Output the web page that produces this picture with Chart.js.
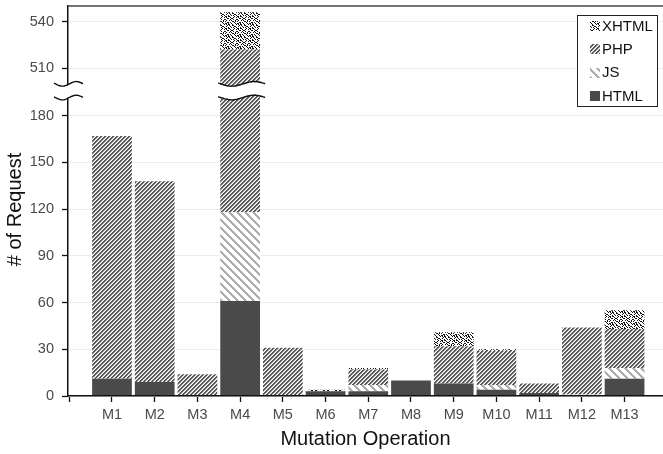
<!DOCTYPE html>
<html><head><meta charset="utf-8">
<script src="https://cdn.jsdelivr.net/npm/chart.js@4.4.1/dist/chart.umd.min.js"></script>
<style>html,body{margin:0;padding:0;background:#fff;overflow:hidden}#wrap{width:663px;height:454px;position:relative}</style>
</head><body><div id="wrap"><canvas id="c" width="663" height="454"></canvas></div>
<script>
// ---- data ----
const categories = ['M1','M2','M3','M4','M5','M6','M7','M8','M9','M10','M11','M12','M13'];
const htmlVals  = [11, 9, 0, 61, 0, 3, 3, 10, 8, 4, 2, 0, 11];
const jsVals    = [0, 0, 0, 57, 0, 0, 4, 0, 0, 3, 0, 1, 7];
const phpVals   = [156, 129, 14, 404, 31, 0, 10, 0, 24, 22, 6, 43, 25];
const xhtmlVals = [0, 0, 0, 24, 0, 1, 1, 0, 9, 1, 0, 0, 12];
const seriesNames = ['HTML', 'JS', 'PHP', 'XHTML'];
const yTicksLower = [0, 30, 60, 90, 120, 150, 180];
const yTicksUpper = [510, 540];

// ---- broken axis mapping ----
const BREAK_LOW = 195;      // values above this are shifted down
const SHIFT = 299.5;        // amount of the axis removed by the break
const WAVE_LOW = 191.7, WAVE_HIGH = 200.5; // display units of the break marks
const f = v => (v > BREAK_LOW ? v - SHIFT : v);
const unf = v => (v > BREAK_LOW ? Math.round(v + SHIFT) : Math.round(v));

const raw = [htmlVals, jsVals, phpVals, xhtmlVals];
const disp = raw.map(() => []);
categories.forEach((c, i) => {
  let cum = 0;
  raw.forEach((arr, k) => {
    const next = cum + arr[i];
    disp[k][i] = f(next) - f(cum);
    cum = next;
  });
});

// ---- patterns ----
function tile(w, h, painter) {
  const cv = document.createElement('canvas');
  cv.width = w; cv.height = h;
  const cx = cv.getContext('2d');
  cx.fillStyle = '#fff'; cx.fillRect(0, 0, w, h);
  painter(cx, w, h);
  return cv;
}
const phpTile = tile(4, 4, (cx) => {
  for (let x = 0; x < 4; x++) for (let y = 0; y < 4; y++) {
    const m = (x + y) % 4;
    if (m < 2) { cx.fillStyle = '#595959'; cx.fillRect(x, y, 1, 1); }
    else if (m === 2) { cx.fillStyle = '#c4c4c4'; cx.fillRect(x, y, 1, 1); }
  }
});
const jsTile = tile(8, 8, (cx) => {
  cx.fillStyle = '#adadad';
  for (let x = 0; x < 8; x++) for (let y = 0; y < 8; y++) if (((x - y) % 8 + 8) % 8 < 3) cx.fillRect(x, y, 1, 1);
});
const dots = ['110010001010','010011000001','001000110010','100101001000','110000100110','001001001010',
              '100110000001','001001001100','010100010010','000011010100','101000100001','100100010110'];
const xhtmlTile = tile(12, 12, (cx) => {
  cx.fillStyle = '#111';
  dots.forEach((row, y) => { for (let x = 0; x < 12; x++) if (row[x] === '1') cx.fillRect(x, y, 1, 1); });
});
const mainCtx = document.getElementById('c').getContext('2d');
const fills = ['#4a4a4a', mainCtx.createPattern(jsTile, 'repeat'), mainCtx.createPattern(phpTile, 'repeat'), mainCtx.createPattern(xhtmlTile, 'repeat')];

const FONT = "'Liberation Sans', Arial, Helvetica, sans-serif";

const datasets = seriesNames.map((name, k) => ({
  label: name,
  data: categories.map((c, i) => ({ x: i + 1, y: disp[k][i] })),
  backgroundColor: fills[k],
  borderWidth: 0,
  barPercentage: 0.93,
  categoryPercentage: 1.0
}));

function wavePath(x0, x1, yc) {
  const pts = [];
  for (let x = x0; x <= x1 + 0.01; x += 1) {
    const t = (x - x0) / (x1 - x0);
    pts.push([x, yc + 2.3 * Math.sin(2 * Math.PI * (1.05 * t) - 0.35)]);
  }
  return pts;
}

const decor = {
  id: 'decor',
  afterDraw(chart) {
    const ctx = chart.ctx, a = chart.chartArea;
    const ys = chart.scales.y, xs = chart.scales.x;
    ctx.save();
    // top border
    ctx.strokeStyle = '#444'; ctx.lineWidth = 1.5;
    ctx.beginPath(); ctx.moveTo(a.left, a.top); ctx.lineTo(a.right, a.top); ctx.stroke();
    // break marks
    const yHi = ys.getPixelForValue(WAVE_HIGH), yLo = ys.getPixelForValue(WAVE_LOW);
    const cx4 = xs.getPixelForValue(categories.indexOf('M4') + 1);
    const ranges = [[a.left - 14, a.left + 15], [cx4 - 22, cx4 + 25]];
    ranges.forEach(([x0, x1]) => {
      const top = wavePath(x0, x1, yHi), bot = wavePath(x0, x1, yLo);
      ctx.fillStyle = '#fff';
      ctx.beginPath();
      top.forEach((p, i) => i ? ctx.lineTo(p[0], p[1] + 0.8) : ctx.moveTo(p[0], p[1] + 0.8));
      bot.slice().reverse().forEach(p => ctx.lineTo(p[0], p[1] - 0.8));
      ctx.closePath(); ctx.fill();
      ctx.strokeStyle = '#111'; ctx.lineWidth = 1.4;
      [top, bot].forEach(pts => {
        ctx.beginPath();
        pts.forEach((p, i) => i ? ctx.lineTo(p[0], p[1]) : ctx.moveTo(p[0], p[1]));
        ctx.stroke();
      });
    });
    // legend
    const lw = 80, lh = 91;
    const lx = a.right - 6 - lw, ly = a.top + 9;
    ctx.fillStyle = '#fff'; ctx.fillRect(lx, ly, lw, lh);
    ctx.strokeStyle = '#222'; ctx.lineWidth = 1;
    ctx.strokeRect(lx + 0.5, ly + 0.5, lw, lh);
    ctx.font = '15px ' + FONT; ctx.textBaseline = 'middle'; ctx.textAlign = 'left';
    const order = chart.data.datasets.slice().reverse();
    order.forEach((ds, i) => {
      const cy = ly + 11 + i * 23.3;
      ctx.fillStyle = ds.backgroundColor;
      ctx.fillRect(lx + 13, Math.round(cy - 5), 10, 10);
      ctx.fillStyle = '#111';
      ctx.fillText(ds.label, lx + 25, cy + 0.5);
    });
    // y title
    ctx.translate(15.5, (a.top + a.bottom) / 2 + 8.5);
    ctx.rotate(-Math.PI / 2);
    ctx.font = '20px ' + FONT; ctx.textAlign = 'center'; ctx.textBaseline = 'middle';
    ctx.fillStyle = '#111';
    ctx.fillText('# of Request', 0, 0);
    ctx.restore();
  }
};

new Chart(mainCtx, {
  type: 'bar',
  data: { datasets },
  options: {
    responsive: false,
    animation: false,
    layout: { padding: { top: 6, right: 0, bottom: 0, left: 0 } },
    plugins: { legend: { display: false }, tooltip: { enabled: false } },
    scales: {
      x: {
        type: 'linear', stacked: true, offset: false,
        min: -0.03, max: 13.9,
        afterBuildTicks: s => { s.ticks = [0,1,2,3,4,5,6,7,8,9,10,11,12,13].map(v => ({ value: v })); },
        afterFit: s => { s.height = 58; s.paddingLeft = 0; s.paddingRight = 0; },
        grid: { offset: false, drawOnChartArea: false, drawTicks: true, tickLength: 6, tickColor: '#111', tickWidth: 1.3 },
        border: { color: '#111', width: 1.5, z: 1 },
        ticks: { autoSkip: false, maxRotation: 0, padding: 4, color: '#4a4a4a', font: { family: FONT, size: 14.5 },
                 callback: v => (v >= 1 && v <= categories.length ? categories[v - 1] : '') },
        title: { display: true, text: 'Mutation Operation', color: '#111', font: { family: FONT, size: 20 }, padding: { top: 0, bottom: 3 } }
      },
      y: {
        type: 'linear', stacked: true,
        min: 0, max: 250.5,
        afterBuildTicks: s => { s.ticks = yTicksLower.concat(yTicksUpper.map(f)).map(v => ({ value: v })); },
        afterFit: s => { s.width = 68; s.paddingTop = 0; s.paddingBottom = 0; },
        grid: { color: '#ececec', lineWidth: 1, drawTicks: true, tickLength: 6, tickColor: '#111', tickWidth: 1.3 },
        border: { color: '#111', width: 1.5 },
        ticks: { padding: 8, color: '#4a4a4a', font: { family: FONT, size: 14.5 }, callback: v => String(unf(v)) },
        title: { display: false }
      }
    }
  },
  plugins: [decor]
});
</script>
</body></html>
